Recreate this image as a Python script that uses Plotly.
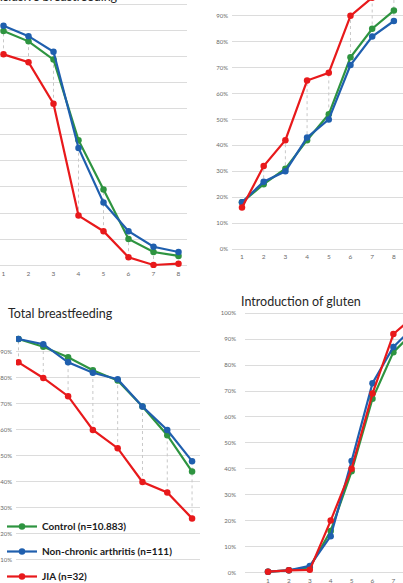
import plotly.graph_objects as go

W, H = 403, 583

months = [1, 2, 3, 4, 5, 6, 7, 8]
month_labels = ["1", "2", "3", "4", "5", "6", "7", "8"]
series_names = ["Control (n=10.883)", "Non-chronic arthritis (n=111)", "JIA (n=32)"]
series_colors = ["#2E9440", "#1F5FAE", "#E8191B"]

# Panel 1: Exclusive breastfeeding (%)
excl_control = [90, 86, 79, 48, 29, 10, 5, 3.5]
excl_nonchronic = [92, 88, 82, 45, 24, 13, 7, 5]
excl_jia = [81, 78, 62, 19, 13, 3, 0, 0.5]

# Panel 2: top-right panel (title cut off) (%)
p2_control = [18, 25, 31, 42, 52, 74, 85, 92]
p2_nonchronic = [18, 26, 30, 43, 50, 71, 82, 88]
p2_jia = [16, 32, 42, 65, 68, 90, 97, 100]

# Panel 3: Total breastfeeding (%)
total_control = [95, 92, 88, 83, 79, 69, 58, 44]
total_nonchronic = [95, 93, 86, 82, 79.5, 69, 60, 48]
total_jia = [86, 80, 73, 60, 53, 40, 36, 26]

# Panel 4: Introduction of gluten (%)
gluten_control = [0.3, 0.8, 2, 16, 39, 67, 85, 93]
gluten_nonchronic = [0.3, 0.8, 2.5, 14, 43, 73, 87, 95]
gluten_jia = [0.3, 0.8, 1, 20, 40, 69, 92, 99]

titles = ["Exclusive breastfeeding", "", "Total breastfeeding", "Introduction of gluten"]

panels = [
    dict(data=[excl_control, excl_nonchronic, excl_jia],
         xpx=(0, 187), ypx=(0, 268), xr=[0.86, 8.34], yr=[-1.15, 101.9],
         ylabels=False, xlabels=True),
    dict(data=[p2_control, p2_nonchronic, p2_jia],
         xpx=(232, 403), ypx=(0, 251), xr=[0.54, 8.42], yr=[-0.77, 96.1],
         ylabels=True, xlabels=True),
    dict(data=[total_control, total_nonchronic, total_jia],
         xpx=(16, 200), ypx=(327, 583), xr=[0.9, 8.32], yr=[1.15, 99.6],
         ylabels=True, xlabels=False),
    dict(data=[gluten_control, gluten_nonchronic, gluten_jia],
         xpx=(245, 403), ypx=(312, 575), xr=[-0.1, 7.46], yr=[-1.0, 100.5],
         ylabels=True, xlabels=True),
]

fig = go.Figure()
layout = {}
for i, p in enumerate(panels):
    n = "" if i == 0 else str(i + 1)
    xa, ya = "x" + n, "y" + n
    # high-low lines
    hx, hy = [], []
    for k, m in enumerate(months):
        vals = [s[k] for s in p["data"]]
        hx += [m, m, None]
        hy += [min(vals), max(vals), None]
    fig.add_trace(go.Scatter(x=hx, y=hy, mode="lines", xaxis=xa, yaxis=ya,
                             line=dict(color="#C8C8C8", width=1, dash="dot"),
                             showlegend=False, hoverinfo="skip"))
    for s, (vals, name, col) in enumerate(zip(p["data"], series_names, series_colors)):
        fig.add_trace(go.Scatter(
            x=months, y=vals, name=name, xaxis=xa, yaxis=ya,
            mode="lines+markers", line=dict(color=col, width=2.2),
            marker=dict(color=col, size=6.5),
            legendgroup="g%d" % s, showlegend=(i == 2)))
    layout["xaxis" + n] = dict(
        domain=[p["xpx"][0] / W, p["xpx"][1] / W], range=p["xr"], anchor=ya,
        tickmode="array", tickvals=months, ticktext=month_labels,
        showticklabels=p["xlabels"],
        showgrid=False, zeroline=False, showline=False, ticks="", automargin=False,
        tickfont=dict(size=6.5, color="#6A6A6A", family="Lato"))
    layout["yaxis" + n] = dict(
        domain=[1 - p["ypx"][1] / H, 1 - p["ypx"][0] / H], range=p["yr"], anchor=xa,
        tick0=0, dtick=10, ticksuffix="%", showticklabels=p["ylabels"],
        gridcolor="#DCDCDC", gridwidth=1, zeroline=False, showline=False, ticks="",
        automargin=False, ticklabelstandoff=(8 if i == 3 else 3),
        tickfont=dict(size=6, color="#6A6A6A", family="Lato"))

annotations = [
    dict(text=titles[0], x=-13 / W, y=1 + 4 / H, xanchor="left", yanchor="middle"),
    dict(text=titles[2], x=6 / W, y=1 - 314 / H, xanchor="left", yanchor="middle"),
    dict(text=titles[3], x=239 / W, y=1 - 301 / H, xanchor="left", yanchor="middle"),
]
for a in annotations:
    a.update(xref="paper", yref="paper", showarrow=False,
             font=dict(family="Lato", size=12.5, color="#262626"))

fig.update_layout(
    width=W, height=H, margin=dict(l=0, r=0, t=0, b=0, autoexpand=False),
    paper_bgcolor="white", plot_bgcolor="white",
    annotations=annotations,
    legend=dict(x=2 / W, y=1 - 512 / H, xanchor="left", yanchor="top",
                bgcolor="rgba(255,255,255,0)", tracegroupgap=6, itemwidth=30,
                font=dict(family="Lato", size=10, color="#1A1A1A", weight="bold")),
    **layout)

fig.write_html("out.html")
